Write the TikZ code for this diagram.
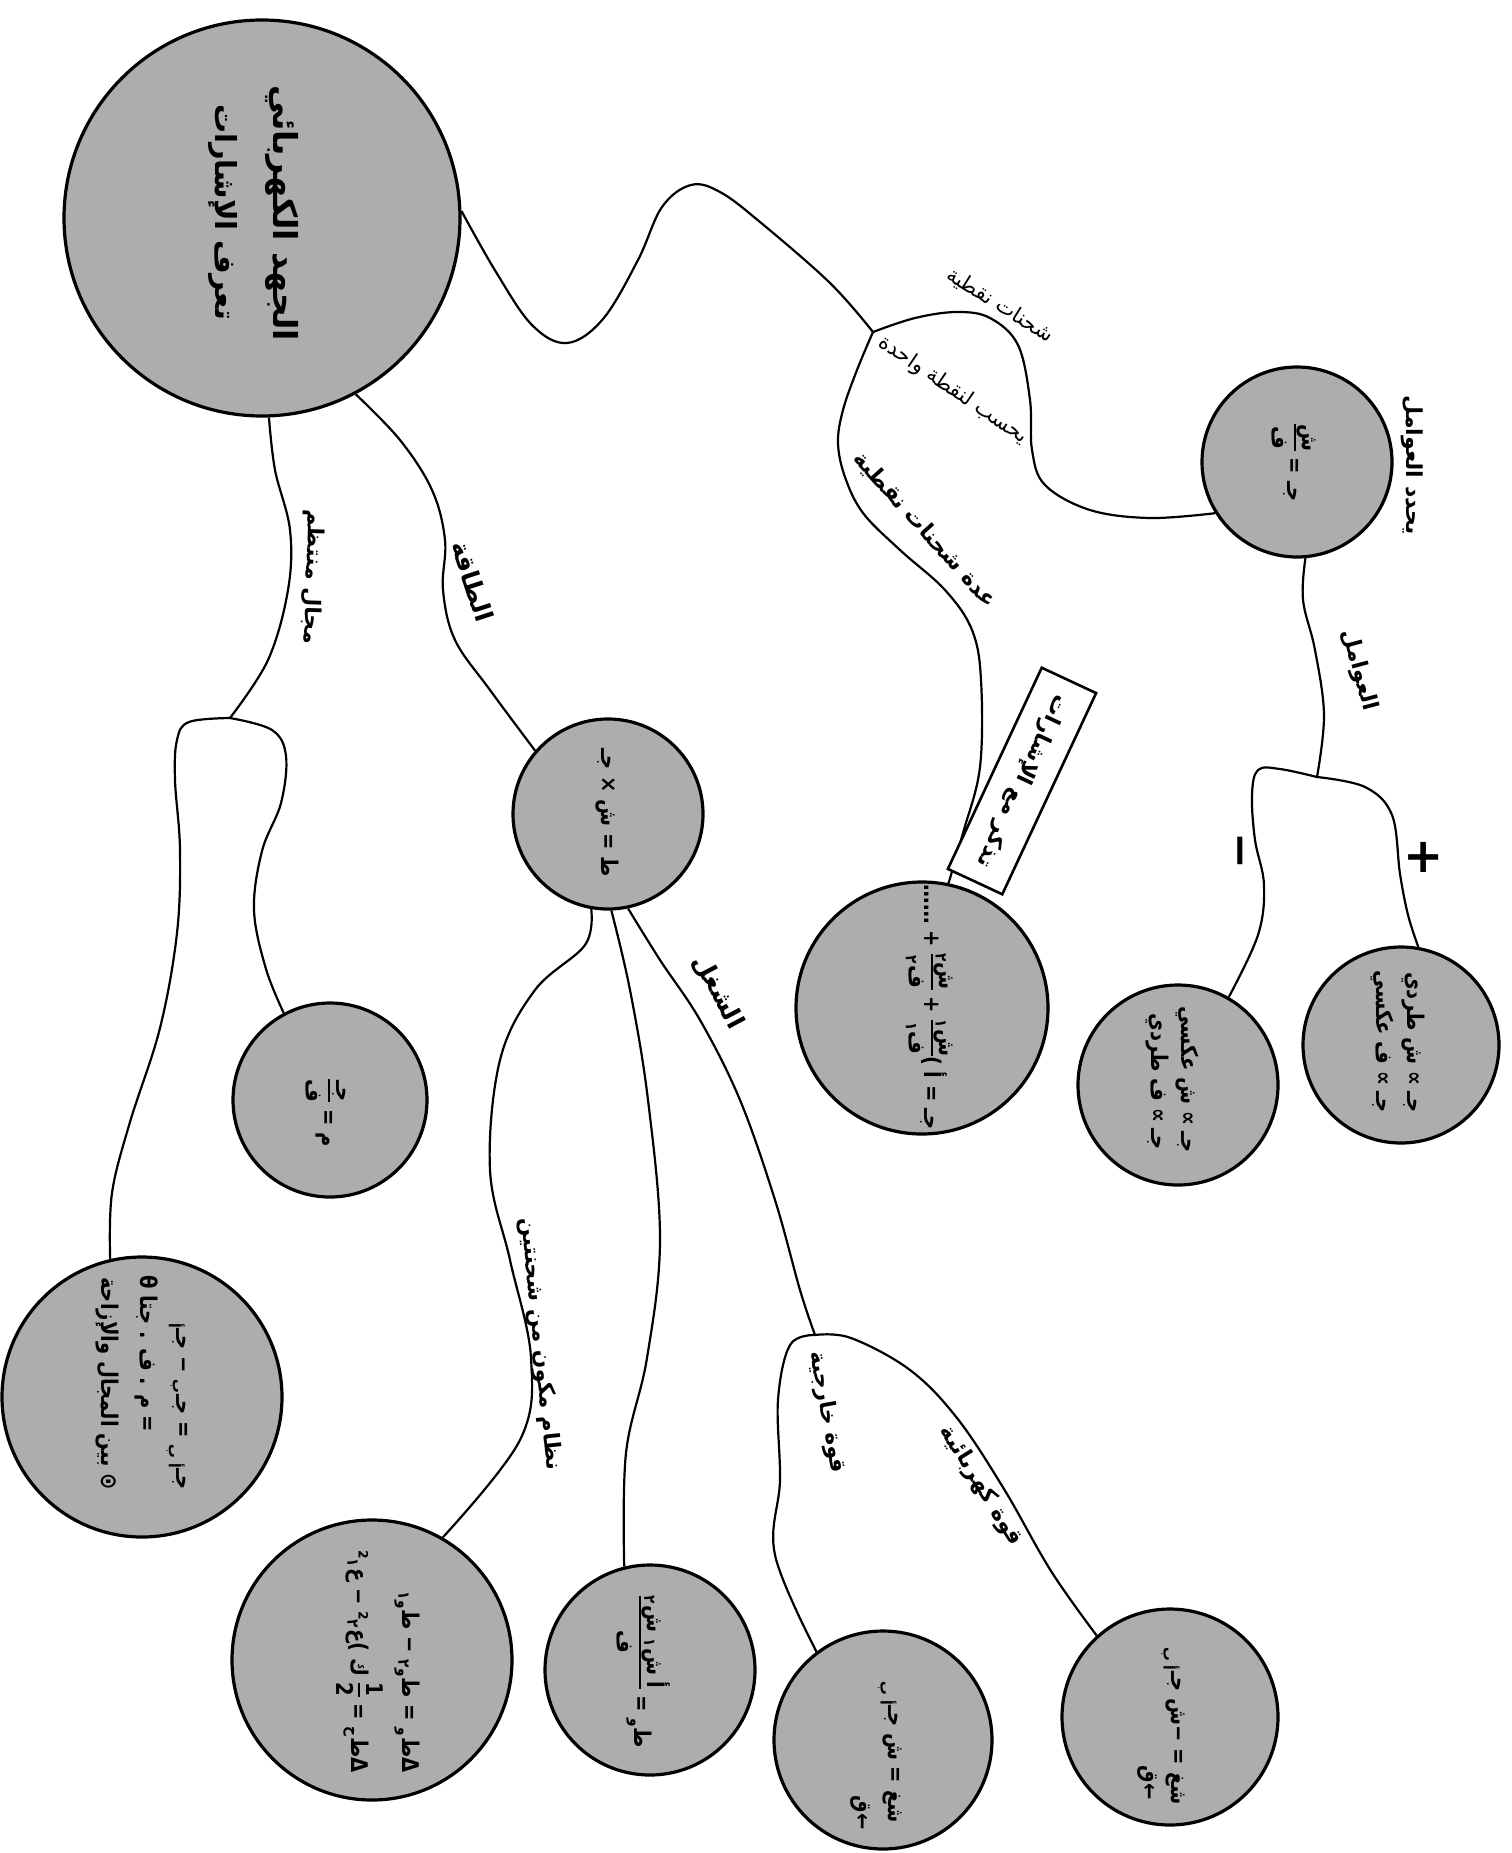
\documentclass[tikz,border=0pt]{standalone}
\usepackage{fontspec}
\newfontfamily\arabicfont[Script=Arabic]{DejaVu Sans}
\TeXXeTstate=1
\newcommand\AR[1]{{\arabicfont\beginR #1\endR}}
\newcommand\sbs[1]{\textsubscript{#1}}
\setlength\arrayrulewidth{0.9pt}
\newcommand\fr[2]{\begin{tabular}{@{}c@{}}#1\\[-1pt]\hline\noalign{\vskip1pt}#2\end{tabular}}
\begin{document}
\begin{tikzpicture}[x=0.5pt,y=-0.5pt,
  bub/.style={circle,draw=black,line width=1.6pt,fill=black!32,inner sep=0pt},
  lnk/.style={line width=1.1pt},
  lab/.style={inner sep=0pt,font=\arabicfont\bfseries\fontsize{11}{13}\selectfont},
  labr/.style={inner sep=0pt,font=\arabicfont\fontsize{10.5}{13}\selectfont},
  fml/.style={inner sep=0pt,rotate=-90,xscale=0.85,font=\arabicfont\bfseries\fontsize{11.5}{14}\selectfont},
  fmle/.style={fml,anchor=east}]
\useasboundingbox[fill=white] (0,0) rectangle (1511,1853);

% circles
\node[bub,minimum size=198pt] (main) at (262,218) {};
\node[bub,minimum size=95pt] (tr) at (1297,462) {};
\node[bub,minimum size=95pt] (e) at (608,814) {};
\node[bub,minimum size=126pt] (c1) at (922,1008) {};
\node[bub,minimum size=100pt] (cm) at (1178,1085) {};
\node[bub,minimum size=98pt] (cp) at (1401,1045) {};
\node[bub,minimum size=97pt] (m) at (330,1100) {};
\node[bub,minimum size=140pt] (bl) at (142,1397) {};
\node[bub,minimum size=140pt] (d) at (372,1660) {};
\node[bub,minimum size=105pt] (k) at (650,1670) {};
\node[bub,minimum size=109pt] (w1) at (883,1740) {};
\node[bub,minimum size=108pt] (w2) at (1170,1717) {};

\coordinate (j) at (873,332);
\coordinate (f1) at (1317,777);
\coordinate (g) at (230,718);
\coordinate (b) at (815,1335);

% connectors
\draw[lnk] plot[smooth,tension=0.6] coordinates {(main.2) (496,272) (532,325) (567,343) (603,319) (638,260) (662,207) (691,185) (720,192) (760,222) (830,283) (j)};
\draw[lnk] plot[smooth,tension=0.6] coordinates {(j) (915,318) (957,312) (990,318) (1018,345) (1030,400) (1032,450) (1045,485) (1090,510) (1150,518) (tr.212)};
\draw[lnk] plot[smooth,tension=0.6] coordinates {(j) (857,370) (843,410) (838,443) (845,477) (863,513) (900,550) (945,590) (972,630) (981,680) (980,767) (963,833) (c1.78)};
\draw[lnk] plot[smooth,tension=0.6] coordinates {(tr.-85) (1303,600) (1315,650) (1324,715) (f1)};
\draw[lnk] plot[smooth,tension=0.6] coordinates {(f1) (1280,769) (1258,770) (1252,795) (1255,840) (1264,885) (1258,935) (cm.60)};
\draw[lnk] plot[smooth,tension=0.6] coordinates {(f1) (1365,787) (1392,815) (1400,874) (1408,915) (cp.80)};
\draw[lnk] plot[smooth,tension=0.6] coordinates {(main.-62) (400,440) (432,490) (445,540) (443,590) (455,640) (490,690) (e.139)};
\draw[lnk] plot[smooth,tension=0.6] coordinates {(main.-88) (275,470) (290,530) (288,590) (268,660) (g)};
\draw[lnk] plot[smooth,tension=0.6] coordinates {(g) (189,722) (177,740) (175,780) (180,850) (177,933) (160,1028) (130,1122) (112,1193) (bl.103)};
\draw[lnk] plot[smooth,tension=0.6] coordinates {(g) (272,730) (286,756) (281,803) (262,851) (254,910) (266,969) (m.118)};
\draw[lnk] plot[smooth,tension=0.6] coordinates {(e.-100) (585,945) (535,990) (500,1060) (490,1170) (510,1260) (531,1358) (520,1440) (d.60)};
\draw[lnk] plot[smooth,tension=0.6] coordinates {(e.-88) (630,990) (648,1100) (660,1240) (647,1358) (626,1453) (k.104)};
\draw[lnk] plot[smooth,tension=0.6] coordinates {(e.-78) (660,960) (700,1020) (740,1100) (775,1200) (800,1290) (b)};
\draw[lnk] plot[smooth,tension=0.6] coordinates {(b) (790,1345) (778,1400) (780,1480) (775,1555) (w1.127)};
\draw[lnk] plot[smooth,tension=0.6] coordinates {(b) (851,1338) (910,1370) (957,1418) (1004,1489) (1051,1571) (w2.132)};

% reminder box
\node[draw,line width=1.3pt,fill=white,rotate=-115,minimum width=111pt,minimum height=30pt,lab] (box) at (1022,781) {\AR{تذكر مع الإشارات}};

% main title
\node[rotate=-90,inner sep=0pt,font=\arabicfont\bfseries\fontsize{16.5}{20}\selectfont] (t1) at (282,213) {\AR{الجهد الكهربائي}};
\node[rotate=-90,inner sep=0pt,font=\arabicfont\bfseries\fontsize{14.5}{18}\selectfont] (t2) at (223,212) {\AR{تعرف الإشارات}};

% connector labels
\node[labr,rotate=-32] (l1) at (1000,305) {\AR{شحنات نقطية}};
\node[labr,rotate=-34] (l2) at (953,390) {\AR{يحسب لنقطة واحدة}};
\node[lab,rotate=-48] (l3) at (925,530) {\AR{عدة شحنات نقطية}};
\node[lab,rotate=-72,font=\arabicfont\bfseries\fontsize{12.5}{14}\selectfont] (l4) at (473,581) {\AR{الطاقة}};
\node[lab,rotate=-92] (l5) at (312,577) {\AR{مجال منتظم}};
\node[lab,rotate=-62,font=\arabicfont\bfseries\fontsize{12.5}{14}\selectfont] (l6) at (718,992) {\AR{الشغل}};
\node[lab,rotate=-84] (l7) at (540,1344) {\AR{نظام مكون من شحنتين}};
\node[lab,rotate=-80] (l8) at (827,1412) {\AR{قوة خارجية}};
\node[lab,rotate=-58] (l9) at (981,1486) {\AR{قوة كهربائية}};
\node[lab,rotate=-75] (l10) at (1359,670) {\AR{العوامل}};
\node[lab,rotate=-90] (l11) at (1412,465) {\AR{يحدد العوامل}};
\node[inner sep=0pt,font=\arabicfont\bfseries\fontsize{24}{24}\selectfont] (plus) at (1424,857) {+};
\node[inner sep=0pt,rotate=-90,font=\arabicfont\bfseries\fontsize{22}{22}\selectfont] (minus) at (1235,851) {−};

% formulas
\node[fml] (ftr) at (1293,463) {\fr{\AR{ش}}{\AR{ف}} = \AR{جـ}};
\node[fml] (fe) at (607,813) {\AR{جـ} × \AR{ش} = \AR{ط}};
\node[fml] (fc1) at (930,1007) {…… + \fr{\AR{ش\sbs{٢}}}{\AR{ف\sbs{٢}}} + \fr{\AR{ش\sbs{١}}}{\AR{ف\sbs{١}}}) \AR{أ} = \AR{جـ}};
\node[fmle] (fcp1) at (1413,1113) {\AR{جـ ∝ ش طردي}};
\node[fmle] (fcp2) at (1382,1113) {\AR{جـ ∝ ف عكسي}};
\node[fmle] (fcm1) at (1187,1153) {\AR{جـ ∝ ش عكسي}};
\node[fmle] (fcm2) at (1157,1150) {\AR{جـ ∝ ف طردي}};
\node[fml] (fm) at (327,1113) {\fr{\AR{جـ}}{\AR{ف}} = \AR{م}};
\node[fmle] (fbl1) at (177,1490) {\AR{جـ\sbs{أ}} − \AR{جـ\sbs{ب}} = \AR{جـ\sbs{ب أ}}};
\node[fmle] (fbl2) at (147,1432) {θ \AR{جتا} . \AR{ف} . \AR{م} =};
\node[fmle] (fbl3) at (107,1490) {\AR{⊙ بين المجال والإزاحة}};
\node[fmle] (fd1) at (407,1773) {\AR{ط\sbs{و١}} − \AR{ط\sbs{و٢}} = \AR{ط\sbs{و}}Δ};
\node[fmle] (fd2) at (357,1773) {²\AR{ع\sbs{١}} − ²\AR{ع\sbs{٢}}) \AR{ك} \fr{1}{2} = \AR{ط\sbs{ح}}Δ};
\node[fml] (fk) at (640,1672) {\fr{\AR{أ ش\sbs{١} ش\sbs{٢}}}{\AR{ف}} = \AR{ط\sbs{و}}};
\node[fmle] (fw1a) at (890,1823) {\AR{جـ\sbs{ب أ}} \AR{ش} = \AR{شغ}};
\node[fmle] (fw1b) at (860,1830) {\AR{ق}←};
\node[fmle] (fw2a) at (1173,1805) {\AR{جـ\sbs{ب أ}} \AR{ش}− = \AR{شغ}};
\node[fmle] (fw2b) at (1147,1800) {\AR{ق}←};
\end{tikzpicture}
\end{document}
